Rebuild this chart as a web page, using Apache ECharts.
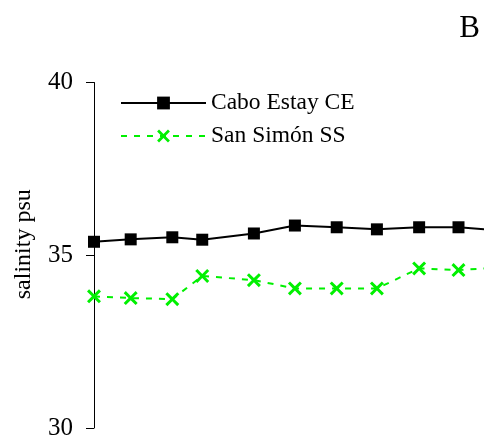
<!DOCTYPE html>
<html>
<head>
<meta charset="utf-8">
<script src="https://cdn.jsdelivr.net/npm/echarts@6/dist/echarts.min.js"></script>
<style>
  html, body { margin: 0; padding: 0; background: #fff; }
  #chart { width: 484px; height: 441px; }
</style>
</head>
<body>
<div id="chart"></div>
<script>
// Sampling positions along the survey (relative units)
var samplePos = [0, 0.895, 1.91, 2.64, 3.90, 4.90, 5.92, 6.90, 7.93, 8.89, 9.90];

// Salinity (psu) at each station
var caboEstay = [35.39, 35.46, 35.52, 35.45, 35.63, 35.86, 35.81, 35.75, 35.81, 35.81, 35.72];
var sanSimon  = [33.81, 33.76, 33.73, 34.40, 34.28, 34.04, 34.04, 34.04, 34.62, 34.57, 34.65];

var seriesNames = ['Cabo Estay CE', 'San Simón SS'];
var yTicks = { min: 30, max: 40, step: 5 };

function pairs(xs, ys) {
  return xs.map(function (x, i) { return [x, ys[i]]; });
}

var serif = '"Liberation Serif", "Times New Roman", serif';
// thick "x" marker drawn as a filled outline
var crossPath = 'path://M0,1.5 L1.5,0 L5,3.5 L8.5,0 L10,1.5 L6.5,5 L10,8.5 L8.5,10 L5,6.5 L1.5,10 L0,8.5 L3.5,5 Z';
var green = '#00f000';

var chart = echarts.init(document.getElementById('chart'), null, { renderer: 'canvas' });
chart.setOption({
  animation: false,
  backgroundColor: '#ffffff',
  title: {
    text: 'B',
    right: -1,
    top: 8,
    textStyle: { fontFamily: serif, fontSize: 31, fontWeight: 'normal', color: '#000' }
  },
  legend: {
    orient: 'vertical',
    left: 115,
    top: 86,
    itemWidth: 85,
    itemHeight: 16,
    itemGap: 9,
    textStyle: { fontFamily: serif, fontSize: 23.5, color: '#000', lineHeight: 24 },
    data: seriesNames
  },
  grid: { left: 94, right: 0, top: 82.5, bottom: 13, containLabel: false },
  xAxis: {
    type: 'value',
    min: 0,
    max: 9.512,
    show: false
  },
  yAxis: {
    type: 'value',
    min: yTicks.min,
    max: yTicks.max,
    interval: yTicks.step,
    name: 'salinity psu',
    nameLocation: 'middle',
    nameGap: 58,
    nameTextStyle: { fontFamily: serif, fontSize: 24, color: '#000', padding: [0, 0, 0, 22] },
    axisLine: { show: true, lineStyle: { color: '#000', width: 1 } },
    axisTick: { show: true, inside: false, length: 8, lineStyle: { color: '#000', width: 1 } },
    axisLabel: { fontFamily: serif, fontSize: 25, color: '#000', margin: 21 },
    splitLine: { show: false }
  },
  series: [
    {
      name: seriesNames[0],
      type: 'line',
      data: pairs(samplePos, caboEstay),
      symbol: 'rect',
      symbolSize: 12,
      clip: true,
      lineStyle: { color: '#000', width: 2 },
      itemStyle: { color: '#000' }
    },
    {
      name: seriesNames[1],
      type: 'line',
      data: pairs(samplePos, sanSimon),
      symbol: crossPath,
      symbolSize: 14,
      clip: true,
      lineStyle: { color: green, width: 2, type: [6, 7] },
      itemStyle: { color: green }
    }
  ]
});
</script>
</body>
</html>
